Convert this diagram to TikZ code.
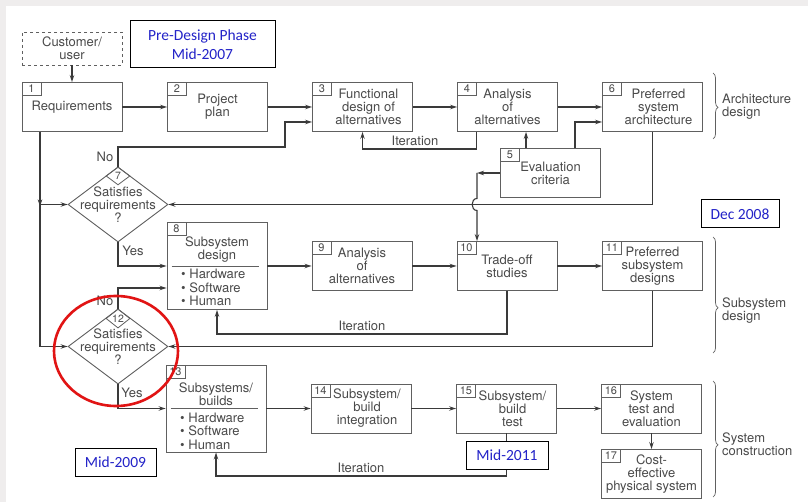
\documentclass[tikz,border=0pt]{standalone}
\usepackage{fontspec}
\setmainfont{TeX Gyre Heros}
\newfontfamily\bluefont{Carlito}
\usetikzlibrary{shapes.geometric,arrows.meta,decorations.pathreplacing}
\definecolor{ln}{HTML}{3A3A3A}
\definecolor{bx}{HTML}{606060}
\definecolor{tx}{HTML}{4A4A4A}
\definecolor{bl}{RGB}{35,35,200}
\definecolor{bgc}{HTML}{EFEDED}
\definecolor{rc}{RGB}{225,20,20}
\newcommand\shr{\hspace*{12pt}}
\begin{document}
\begin{tikzpicture}[x=1pt,y=-1pt,
 every node/.style={text=tx,font=\fontsize{13}{13}\selectfont},
 box/.style={draw=bx,line width=0.9pt,minimum width=100pt,minimum height=49pt,inner sep=0pt,align=center,fill=white},
 numbox/.style={draw=bx,line width=0.8pt,anchor=north west,font=\fontsize{11}{11}\selectfont,minimum width=19pt,minimum height=13pt,inner sep=1pt},
 numdia/.style={diamond,draw=bx,line width=0.8pt,anchor=north,font=\fontsize{10.5}{10.5}\selectfont,minimum width=24pt,minimum height=18pt,inner sep=0pt},
 dia/.style={diamond,draw=bx,line width=0.9pt,minimum width=100pt,minimum height=75pt,inner sep=0pt},
 conn/.style={draw=ln,line width=1.1pt,-{Stealth[length=7pt,width=4.5pt]}},
 wire/.style={draw=ln,line width=1.1pt},
 note/.style={draw=black,line width=1pt,fill=white,align=center,text=bl,font=\bluefont\fontsize{15.5}{19}\selectfont,inner sep=0pt},
 brc/.style={draw=bx,line width=0.7pt,decorate},
 sep/.style={draw=bx,line width=0.8pt}
]
\fill[bgc] (0,0) rectangle (808,502);
\fill[white] (6,6) rectangle (808,502);
\useasboundingbox (0,0) rectangle (808,502);

% row 1
\node[box,dashed,minimum height=33pt] (cu) at (72,48.5) {Customer/\\user};
\node[box] (b1) at (72,107) {Requirements};
\node[box] (b2) at (217.5,107) {Project\\plan};
\node[box] (b3) at (362.5,107) {\shr Functional\\\shr design of\\\shr alternatives};
\node[box] (b4) at (507.5,107) {Analysis\\of\\alternatives};
\node[box] (b6) at (652.5,107) {\shr Preferred\\\shr system\\\shr architecture};
\node[box] (b5) at (550.5,173) {Evaluation\\criteria};
\node[numbox] (n1) at (b1.north west) {1};
\node[numbox] (n2) at (b2.north west) {2};
\node[numbox] (n3) at (b3.north west) {3};
\node[numbox] (n4) at (b4.north west) {4};
\node[numbox] (n6) at (b6.north west) {6};
\node[numbox] (n5) at (b5.north west) {5};

% diamonds
\node[dia] (d7) at (118,204.5) {};
\node[align=center] (t7) at (118,205) {Satisfies\\requirements\\?};
\node[numdia] (n7) at (d7.north) {7};
\node[dia] (d12) at (118,346.5) {};
\node[align=center] (t12) at (118,347) {Satisfies\\requirements\\?};
\node[numdia] (n12) at (d12.north) {12};

% row 2
\node[box,minimum height=87pt] (b8) at (217,266) {};
\node[align=center] (b8t) at (217,250) {Subsystem\\design};
\node[align=left,anchor=west,inner sep=0pt,font=\fontsize{13}{13.5}\selectfont] (b8l) at (181,287.5) {\textbullet\ Hardware\\\textbullet\ Software\\\textbullet\ Human};
\draw[sep] ([xshift=5pt]b8.west) -- ([xshift=-8pt]b8.east);
\node[numbox] (n8) at (b8.north west) {8};
\node[box] (b9) at (362,266) {Analysis\\of\\alternatives};
\node[box] (b10) at (507,266) {Trade-off\\studies};
\node[box] (b11) at (652.5,266) {Preferred\\subsystem\\designs};
\node[numbox] (n9) at (b9.north west) {9};
\node[numbox] (n10) at (b10.north west) {10};
\node[numbox] (n11) at (b11.north west) {11};

% row 3
\node[box,minimum height=87pt] (b13) at (216,408.5) {};
\node[align=center] (b13t) at (216,394) {Subsystems/\\builds};
\node[align=left,anchor=west,inner sep=0pt,font=\fontsize{13}{13.5}\selectfont] (b13l) at (180,431) {\textbullet\ Hardware\\\textbullet\ Software\\\textbullet\ Human};
\draw[sep] ([xshift=5pt]b13.west) -- ([xshift=-8pt]b13.east);
\node[numbox] (n13) at (b13.north west) {13};
\node[box] (b14) at (361,408.5) {\shr Subsystem/\\\shr build\\\shr integration};
\node[box] (b15) at (506.5,408.5) {\shr Subsystem/\\\shr build\\\shr test};
\node[box] (b16) at (651.5,408.5) {System\\test and\\evaluation};
\node[box] (b17) at (651.5,474) {Cost-\\effective\\physical system};
\node[numbox] (n14) at (b14.north west) {14};
\node[numbox] (n15) at (b15.north west) {15};
\node[numbox] (n16) at (b16.north west) {16};
\node[numbox] (n17) at (b17.north west) {17};

% connectors row 1
\draw[conn] (cu) -- (b1);
\draw[conn] (b1) -- (b2);
\draw[conn] (b2) -- (b3);
\draw[conn] (b3) -- (b4);
\draw[conn] (b4) -- (b6);
\coordinate (c7a) at (285,147);
\draw[conn] (d7.north) |- (c7a) |- ([yshift=-15pt]b3.west);
\coordinate (it1) at (362.5,149);
\draw[conn] ([xshift=-31pt]b4.south) |- (it1) -- (b3.south);
\node (lit1) at (415,141) {Iteration};
\coordinate (e1) at ([xshift=-24.5pt]b5.north);
\draw[conn] (e1) -- (e1 |- b4.south);
\coordinate (e2) at ([xshift=24.5pt]b5.north);
\draw[conn] (e2) |- ([yshift=-15pt]b6.west);
\draw[conn] (b6.south) |- (d7.east);
\coordinate (h5) at (477,173);
\draw[conn] (b5.west) -- (h5);
\draw[conn] (h5) -- (477,198.5) .. controls (470.5,198.5) and (470.5,210.5) .. (477,210.5) -- (h5 |- b10.north);

% left trunk
\coordinate (j0) at ([xshift=-32pt]b1.south);
\coordinate (j7) at (j0 |- d7.west);
\draw[wire] (j0) -- (j7 |- d12.west);
\draw[conn] (j0) -- ([yshift=-2pt]j7);
\draw[conn] (j7) -- (d7.west);
\draw[conn] (j7 |- d12.west) -- (d12.west);

% row 2 connectors
\draw[conn] (d7.south) |- (b8.west);
\draw[conn] (d12.north) |- ([yshift=-22pt]b8.west);
\draw[conn] (d12.south) |- (b13.west);
\draw[conn] (b8) -- (b9);
\draw[conn] (b9) -- (b10);
\draw[conn] (b10) -- (b11);
\coordinate (it2) at (217,334);
\draw[conn] (b10.south) |- (it2) -- (b8.south);
\node (lit2) at (362,326) {Iteration};
\draw[conn] (b11.south) |- (d12.east);

% row 3 connectors
\draw[conn] (b13) -- (b14);
\draw[conn] (b14) -- (b15);
\draw[conn] (b15) -- (b16);
\draw[conn] (b16) -- (b17);
\coordinate (it3) at (216,476);
\draw[conn] (b15.south) |- (it3) -- (b13.south);
\node (lit3) at (361,468) {Iteration};

% labels
\node (no7) at (105,157) {No};
\node (yes7) at (133,251) {Yes};
\node (no12) at (105,301) {No};
\node (yes12) at (132,393) {Yes};

% braces
\draw[brc,decoration={brace,amplitude=5pt,aspect=0.52}] (713,73) -- (713,139);
\draw[brc,decoration={brace,amplitude=5pt,aspect=0.61}] (713,237) -- (713,353);
\draw[brc,decoration={brace,amplitude=5pt,aspect=0.55}] (713,381) -- (713,497);
\node[align=left,anchor=west,inner sep=0pt] (la) at (722,106.5) {Architecture\\design};
\node[align=left,anchor=west,inner sep=0pt] (ls) at (722,310.5) {Subsystem\\design};
\node[align=left,anchor=west,inner sep=0pt] (lc) at (722,444.5) {System\\construction};

% notes
\node[note,minimum width=145pt,minimum height=47pt] (pre) at (202.5,44.5) {Pre-Design Phase\\Mid-2007};
\node[note,minimum width=78pt,minimum height=28pt] (dec) at (740,214) {Dec 2008};
\node[note,minimum width=81pt,minimum height=28pt] (m09) at (115.5,462) {Mid-2009};
\node[note,minimum width=82pt,minimum height=28pt] (m11) at (507,455) {Mid-2011};

% red circle
\draw[rc,line width=2.6pt] (116,351) ellipse [x radius=62pt, y radius=55pt];
\end{tikzpicture}
\end{document}
